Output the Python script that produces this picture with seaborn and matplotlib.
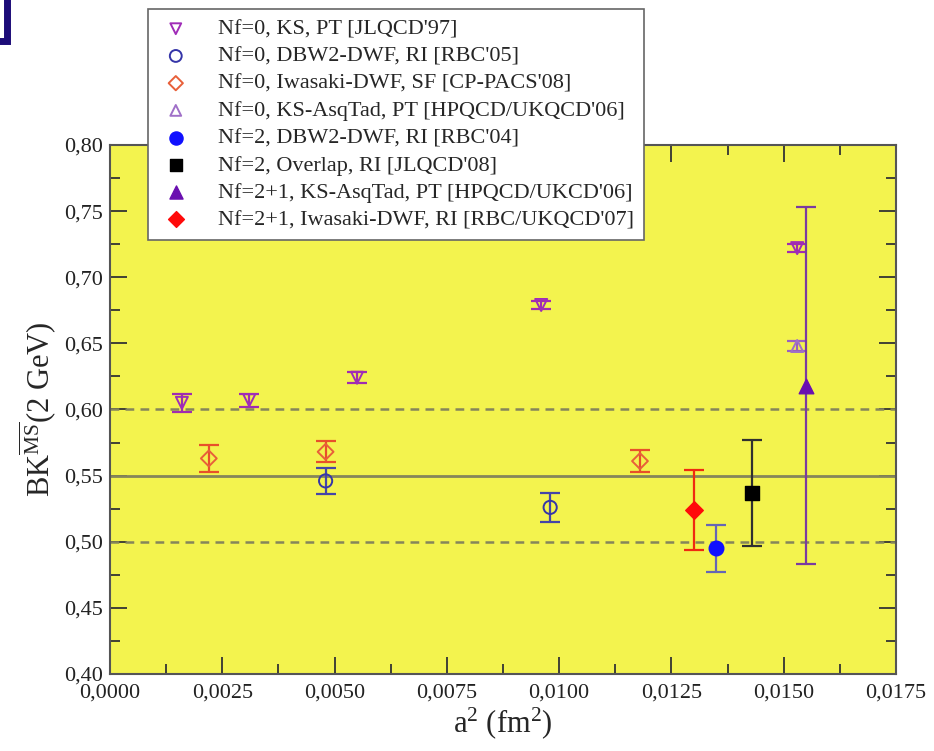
import numpy as np
import pandas as pd
import matplotlib.pyplot as plt
import matplotlib.ticker as mticker
from matplotlib.patches import Rectangle
import seaborn as sns

# datos: a^2 (fm^2), BK y su error
ks_x = [0.0016, 0.0031, 0.0055, 0.0096, 0.0153]
ks_y = [0.605, 0.607, 0.624, 0.679, 0.722]
ks_err = [0.007, 0.005, 0.004, 0.003, 0.003]

dbw2q_x = [0.0048, 0.0098]
dbw2q_y = [0.546, 0.526]
dbw2q_err = [0.010, 0.011]

iwq_x = [0.0022, 0.0048, 0.0118]
iwq_y = [0.563, 0.568, 0.561]
iwq_err = [0.010, 0.008, 0.008]

asqq_x = [0.0153]
asqq_y = [0.648]
asqq_err = [0.004]

dbw2_x = [0.0135]
dbw2_y = [0.495]
dbw2_err = [0.018]

ovl_x = [0.0143]
ovl_y = [0.537]
ovl_err = [0.040]

asq_x = [0.0155]
asq_y = [0.618]
asq_err = [0.135]

iw21_x = [0.0130]
iw21_y = [0.524]
iw21_err = [0.030]

labels = ["Nf=0, KS, PT [JLQCD'97]",
          "Nf=0, DBW2-DWF, RI [RBC'05]",
          "Nf=0, Iwasaki-DWF, SF [CP-PACS'08]",
          "Nf=0, KS-AsqTad, PT [HPQCD/UKQCD'06]",
          "Nf=2, DBW2-DWF, RI [RBC'04]",
          "Nf=2, Overlap, RI [JLQCD'08]",
          "Nf=2+1, KS-AsqTad, PT [HPQCD/UKCD'06]",
          "Nf=2+1, Iwasaki-DWF, RI [RBC/UKQCD'07]"]

bk_media = 0.55
bk_banda = [0.50, 0.60]

# estilo de cada serie: marcador, color marcador, color barra, relleno, tamaño
series = [
    (ks_x, ks_y, ks_err, 'v', '#a02cb8', '#a02cb0', False, 75),
    (dbw2q_x, dbw2q_y, dbw2q_err, 'o', '#3535a8', '#4545a8', False, 90),
    (iwq_x, iwq_y, iwq_err, 'D', '#e8603a', '#e8502a', False, 65),
    (asqq_x, asqq_y, asqq_err, '^', '#a070c8', '#9a60c0', False, 75),
    (dbw2_x, dbw2_y, dbw2_err, 'o', '#1010ff', '#6565b5', True, 110),
    (ovl_x, ovl_y, ovl_err, 's', '#000000', '#303030', True, 90),
    (asq_x, asq_y, asq_err, '^', '#6a10b0', '#7a3aa0', True, 110),
    (iw21_x, iw21_y, iw21_err, 'D', '#ff0a0a', '#f02a10', True, 80),
]

sns.set_style('ticks')
plt.rcParams['font.family'] = ['Liberation Serif', 'DejaVu Serif']
plt.rcParams['mathtext.fontset'] = 'custom'
plt.rcParams['mathtext.rm'] = 'Liberation Serif'
plt.rcParams['mathtext.it'] = 'Liberation Serif:italic'

fig = plt.figure(figsize=(9.34, 7.51), dpi=100)
ax = fig.add_axes([0.1178, 0.1025, 0.8415, 0.7045])
ax.set_facecolor('#f3f34e')

# lineas horizontales de referencia
ax.axhline(bk_media, color='#85855a', lw=2, zorder=1)
for yb in bk_banda:
    ax.axhline(yb, color='#85855a', lw=1.8, ls=(0, (3.5, 2.5)), zorder=1)

for (xs, ys, es, mk, c, ce, filled, s), lab in zip(series, labels):
    ax.errorbar(xs, ys, yerr=es, fmt='none', ecolor=ce, elinewidth=1.6,
                capsize=7, capthick=1.6, zorder=2)
    df = pd.DataFrame({'a2': xs, 'bk': ys})
    if filled:
        sns.scatterplot(data=df, x='a2', y='bk', ax=ax, marker=mk, s=s,
                        color=c, edgecolor=c, linewidth=1, label=lab, zorder=3)
    else:
        sns.scatterplot(data=df, x='a2', y='bk', ax=ax, marker=mk, s=s,
                        facecolor='none', edgecolor=c, linewidth=1.4,
                        label=lab, zorder=3)

ax.set_xlim(0, 0.0175)
ax.set_ylim(0.40, 0.80)
ax.xaxis.set_major_locator(mticker.MultipleLocator(0.0025))
ax.xaxis.set_minor_locator(mticker.MultipleLocator(0.00125))
ax.yaxis.set_major_locator(mticker.MultipleLocator(0.05))
ax.yaxis.set_minor_locator(mticker.MultipleLocator(0.025))
ax.xaxis.set_major_formatter(mticker.FuncFormatter(lambda v, p: f'{v:.4f}'.replace('.', ',')))
ax.yaxis.set_major_formatter(mticker.FuncFormatter(lambda v, p: f'{v:.2f}'.replace('.', ',')))
ax.tick_params(which='both', direction='in', top=True, right=True,
               colors='#333333', labelcolor='#222222', labelsize=16)
ax.tick_params(which='major', length=12, width=1.3)
ax.tick_params(which='minor', length=7, width=1.3)
ax.tick_params(axis='x', pad=7)
ax.tick_params(axis='y', pad=5)
for sp in ax.spines.values():
    sp.set_color('#555555')
    sp.set_linewidth(1.5)

ax.set_xlabel(r'a$^{2}$ (fm$^{2}$)', fontsize=22, labelpad=2)
ax.set_ylabel(r'BK$^{\overline{\rm MS}}$(2 GeV)', fontsize=22, labelpad=4)

# leyenda que sobresale por encima de los ejes
h, l = ax.get_legend_handles_labels()
leg = ax.legend(h, l, loc='upper left', bbox_to_anchor=(148 / 934, 1 - 9 / 751),
                bbox_transform=fig.transFigure, fontsize=16, frameon=True,
                fancybox=False, edgecolor='#666666', framealpha=1,
                handletextpad=1.1, labelspacing=0.3, borderpad=0.45,
                borderaxespad=0, markerscale=0.9, handlelength=1.6)
leg.get_frame().set_linewidth(1.2)
leg.set_zorder(10)

# trozo de recuadro azul en la esquina
fig.patches.append(Rectangle((-0.03, 0.945), 0.038, 0.1, transform=fig.transFigure,
                             fill=False, edgecolor='#1c0c78', lw=5))

plt.savefig('out.png', dpi=100)
